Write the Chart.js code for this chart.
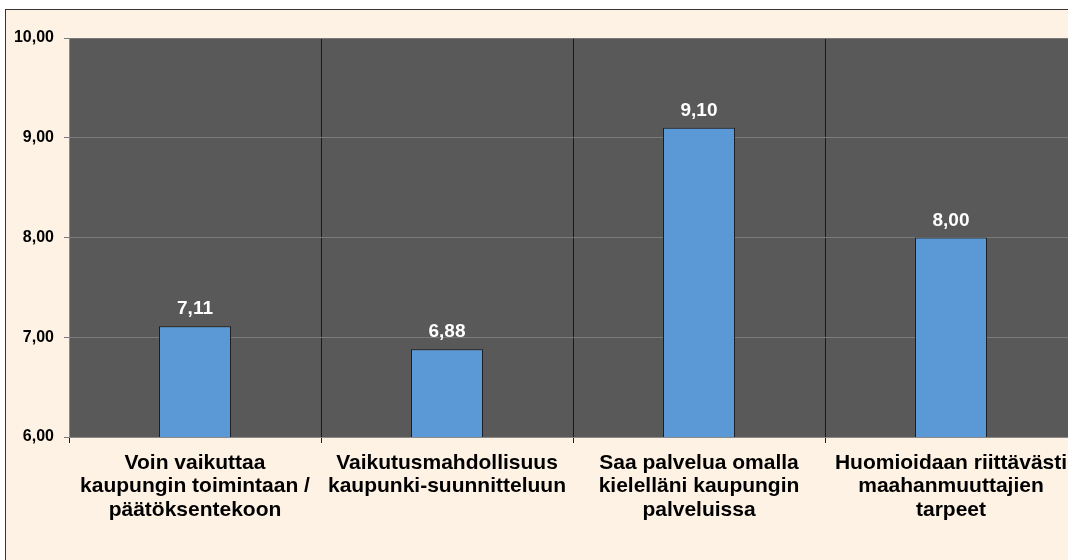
<!DOCTYPE html>
<html>
<head>
<meta charset="utf-8">
<script src="https://cdn.jsdelivr.net/npm/chart.js@4/dist/chart.umd.min.js"></script>
<style>
  html, body { margin: 0; padding: 0; background: #ffffff; width: 1068px; height: 560px; overflow: hidden; }
  #frame { position: absolute; left: 5px; top: 9px; width: 1200px; height: 600px;
           border-left: 1px solid #3a3532; border-top: 1px solid #3a3532; background: #fdf2e4; }
  #wrap { position: absolute; left: 0; top: 0; width: 1100px; height: 560px; }
</style>
</head>
<body>
<div id="frame"></div>
<div id="wrap"><canvas id="c" width="1100" height="560"></canvas></div>
<script>
const categories = [
  ["Voin vaikuttaa", "kaupungin toimintaan /", "päätöksentekoon"],
  ["Vaikutusmahdollisuus", "kaupunki-suunnitteluun"],
  ["Saa palvelua omalla", "kielelläni kaupungin", "palveluissa"],
  ["Huomioidaan riittävästi", "maahanmuuttajien", "tarpeet"]
];
const values = [7.11, 6.88, 9.10, 8.00];
const yTicks = [6, 7, 8, 9, 10];

const fmt = v => v.toFixed(2).replace('.', ',');

const plotBg = {
  id: 'plotBg',
  beforeDraw(chart) {
    const { ctx, chartArea: a } = chart;
    ctx.save();
    ctx.fillStyle = '#595959';
    ctx.fillRect(a.left, a.top, a.right - a.left, a.bottom - a.top);
    ctx.restore();
  }
};

const dataLabels = {
  id: 'dataLabels',
  afterDatasetsDraw(chart) {
    const { ctx } = chart;
    const meta = chart.getDatasetMeta(0);
    ctx.save();
    ctx.fillStyle = '#ffffff';
    ctx.font = 'bold 19px "Liberation Sans", Arial, sans-serif';
    ctx.textAlign = 'center';
    ctx.textBaseline = 'alphabetic';
    meta.data.forEach((bar, i) => {
      ctx.fillText(fmt(values[i]), bar.x, bar.y - 12);
    });
    ctx.restore();
  }
};

new Chart(document.getElementById('c'), {
  type: 'bar',
  data: {
    labels: categories,
    datasets: [{
      data: values,
      backgroundColor: '#5a99d5',
      borderColor: '#1a1a1a',
      borderWidth: 1,
      borderSkipped: false,
      barPercentage: 0.286,
      categoryPercentage: 1.0
    }]
  },
  options: {
    responsive: false,
    animation: false,
    devicePixelRatio: 1,
    layout: { padding: { left: 0, top: 38, right: 23, bottom: 0 } },
    plugins: { legend: { display: false }, tooltip: { enabled: false } },
    scales: {
      x: {
        offset: true,
        afterFit(s) { s.height = 123; },
        grid: { offset: true, color: '#1a1a1a', lineWidth: 1, tickLength: 6, drawOnChartArea: true },
        border: { color: '#8a8a8a', width: 1 },
        ticks: {
          color: '#000000',
          padding: 9,
          maxRotation: 0,
          autoSkip: false,
          font: { family: '"Liberation Sans", Arial, sans-serif', size: 21, weight: 'bold', lineHeight: 1.1 }
        }
      },
      y: {
        min: 6, max: 10,
        afterFit(s) { s.width = 69; },
        afterBuildTicks(s) { s.ticks = yTicks.map(v => ({ value: v })); },
        grid: { color: '#7a7a7a', lineWidth: 1, tickLength: 5 },
        border: { color: '#8a8a8a', width: 1 },
        ticks: {
          color: '#000000',
          padding: 10,
          callback: v => fmt(v),
          font: { family: '"Liberation Sans", Arial, sans-serif', size: 16, weight: 'bold' }
        }
      }
    }
  },
  plugins: [plotBg, dataLabels]
});
</script>
</body>
</html>
